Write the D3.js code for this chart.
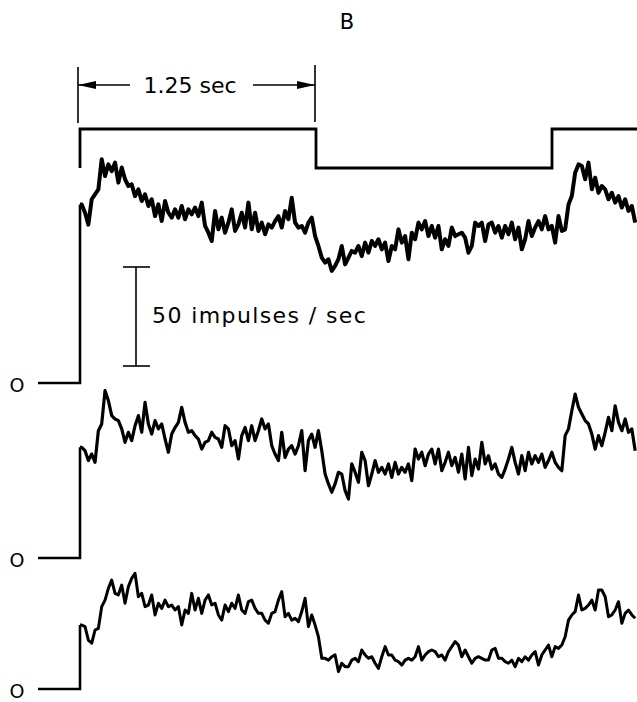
<!DOCTYPE html>
<html><head><meta charset="utf-8">
<script src="https://cdn.jsdelivr.net/npm/d3@7"></script>
<style>html,body{margin:0;padding:0;background:#fff;} svg{display:block;}</style>
</head><body>
<svg id="chart" width="637" height="702"></svg>
<script>
// ---- data ----
const panelLabel = "B";
const periodLabel = "1.25 sec";
const scaleLabel = "50 impulses / sec";
const zeroLabel = "O";
const halfPeriod = 1.25;          // s
const scaleBarValue = 50;         // impulses / sec
const stimTimes  = [0, 0, 1.25, 1.25, 2.5, 2.5, 2.96];
const stimLevels = [0, 1, 1,    0,    0,   1,   1];
const sampleStart = 0.009;        // s
const sampleStep = 0.01766;       // s

const trace1 = [90.2,86,80,92.8,95.3,97.8,113,104.5,110.4,107,111.3,101.2,108.8,102.9,99.5,100.3,94.4,97.8,91.9,95.3,89.4,92.8,84.3,90.2,81.8,91.9,86,83.5,87.7,83.5,89.4,82.7,87.7,85.2,88.6,84.3,91.1,79.3,75.9,71.7,86.9,77.6,83.5,75.9,81,87.7,76.8,80.1,86,78.5,91.1,77.6,86,76.8,81,75.1,80.1,78.5,81.8,84.3,78.5,86.9,82.7,93.6,81,78.5,79.3,75.9,81,83.5,74.2,69.2,63.3,60.8,62.5,56.6,59.1,62.5,69.2,59.9,63.3,66.7,
65.8,69.2,64.1,70.9,65.8,71.7,69.2,72.6,67.5,70.9,61.6,69.2,67.5,77.6,70.9,74.2,62.5,75.9,72.6,81,77.6,81.8,74.2,79.3,73.4,79.3,67.5,72.6,69.2,78.5,74.2,75.1,75.9,73.4,65.8,69.2,81,79.3,81,71.7,80.1,81,75.9,79.3,73.4,79.3,75.1,81,72.6,78.5,67.5,72.6,81.8,74.2,78.5,81.8,77.6,84.3,77.6,79.3,70.9,84.3,76.8,77.6,90.2,94.4,106.2,110.4,109.6,102.9,111.3,97.8,103.7,96.1,99.5,97.8,92.8,96.1,91.1,94.4,88.6,92.8,86.9,89.4,81];

const trace2 = [55.9,54.2,49.2,52.5,48.3,64.3,67.7,84.5,79.5,71.9,70.2,69.4,65.2,58.4,63.5,59.3,66.8,71.9,63.5,78.6,67.7,62.6,69.4,65.2,67.7,60.1,53.4,62.6,65.9,68.5,76.1,68.5,63.5,64.3,61.8,60.1,55,58.4,59.3,63.5,60.9,60.1,55.9,66.8,65.2,56.7,59.3,50,61.8,65.9,59.3,66.8,59.3,64.3,70.2,65.2,67.7,56.7,52.5,49.2,63.5,50.8,55,56.7,52.5,56.7,64.3,44.1,59.3,62.6,55.9,64.3,54.2,42.4,37.4,33.2,37.4,43.3,42.4,34,29.8,47.5,
43.3,38.2,53.4,49.2,36.5,42.4,49.2,43.3,45.8,42.4,47.5,40.7,48.3,42.4,45.8,43.3,47.5,39.1,55,50,53.4,46.6,52.5,55,47.5,55,44.1,48.3,53.4,46.6,50.8,43.3,52.5,39.9,55.9,41.6,50,44.9,58.4,47.5,51.7,44.9,47.5,42.4,40.7,44.9,50,55.9,48.3,42.4,51.7,44.1,53.4,47.5,51.7,48.3,52.5,45.8,49.2,53.4,48.3,45.8,44.1,61.8,65.2,74.4,82.8,76.1,72.7,69.4,67.7,62.6,55,61.8,56.7,63.5,71,64.3,76.9,68.5,64.3,70.2,63.5,65.2,54.2];

const trace3 = [32.3,31.5,24.7,23.1,29.8,30.6,41.6,44.9,50.8,55,48.3,47.5,52.5,43.3,51.7,55.9,58.4,46.6,48.3,41.6,42.4,47.5,37.4,43.3,40.7,44.9,41.6,42.4,39.9,41.6,32.3,39.9,38.2,48.3,39.9,45.8,38.2,44.9,47.5,42.4,43.3,37.4,34.8,42.4,39.1,43.3,40.7,47.5,39.9,38.2,44.1,44.9,40.7,38.2,38.2,34.8,33.2,38.2,39.1,44.9,49.2,36.5,38.2,34.8,35.7,34,39.1,45.8,31.5,37.4,32.3,26.4,15.5,15.5,14.6,16.3,17.2,8.8,13,11.3,11.3,14.6,
15.5,13.8,19.7,17.2,15.5,16.3,13,10.4,16.3,21.4,17.2,17.2,14.6,13.8,12.1,14.6,15.5,14.6,16.3,21.4,14.6,17.2,18.9,19.7,18.9,16.3,17.2,14.6,18.9,21.4,23.9,22.2,16.3,19.7,16.3,13,15.5,16.3,15.5,14.6,14.6,19.7,20.5,15.5,15.5,13.8,13,14.6,11.3,15.5,13.8,16.3,14.6,17.2,18.9,12.1,17.2,19.7,22.2,16.3,21.4,20.5,22.2,26.4,34.8,37.4,39.1,47.5,39.9,40.7,42.4,44.9,39.9,50,50,46.6,36.5,37.4,39.9,44.1,33.2,38.2,39.9,37.4,35.7];

// ---- layout ----
const svg = d3.select("#chart");
const font = "'DejaVu Sans', Verdana, sans-serif";
const x = d3.scaleLinear().domain([0, halfPeriod]).range([80, 316]);
const baselines = [383, 558, 689];
const pxPerUnit = 99 / 50;
const zeroLineStartX = 38;
const traceWidths = [4, 3.2, 3];

const traces = [trace1, trace2, trace3];

traces.forEach((vals, k) => {
  const b = baselines[k];
  const y = d3.scaleLinear().domain([0, scaleBarValue]).range([b, b - scaleBarValue * pxPerUnit]);
  const tStart = x.invert(zeroLineStartX);
  const pts = [[tStart, 0], [0, 0], [0, vals[0]]]
    .concat(vals.map((v, i) => [sampleStart + i * sampleStep, v]));
  const line = d3.line().x(d => x(d[0])).y(d => y(d[1]));
  // baseline and onset step drawn a bit thinner
  svg.append("path").attr("d", line(pts.slice(0, 3)))
    .attr("fill", "none").attr("stroke", "#000").attr("stroke-width", 2.6)
    .attr("stroke-linejoin", "miter");
  svg.append("path").attr("d", line(pts.slice(2)))
    .attr("fill", "none").attr("stroke", "#000")
    .attr("stroke-width", traceWidths[k])
    .attr("stroke-linejoin", "round").attr("stroke-linecap", "butt");
  svg.append("text").attr("x", 17).attr("y", b + 9)
    .attr("text-anchor", "middle").attr("font-family", font)
    .attr("font-size", 19).attr("fill", "#000").text(zeroLabel);
});

// stimulus trace
const yStim = d3.scaleLinear().domain([0, 1]).range([168, 129]);
const stimLine = d3.line().x(d => x(d[0])).y(d => yStim(d[1])).curve(d3.curveLinear);
svg.append("path")
  .attr("d", stimLine(stimTimes.map((t, i) => [t, stimLevels[i]])))
  .attr("fill", "none").attr("stroke", "#000").attr("stroke-width", 2.8)
  .attr("stroke-linejoin", "miter");

// timing bracket
const bx0 = x(0) - 2, bx1 = x(halfPeriod) - 1;
svg.append("line").attr("x1", bx0).attr("x2", bx0).attr("y1", 67).attr("y2", 123)
  .attr("stroke", "#000").attr("stroke-width", 1.6);
svg.append("line").attr("x1", bx1).attr("x2", bx1).attr("y1", 65).attr("y2", 122)
  .attr("stroke", "#000").attr("stroke-width", 1.6);
const arrowY = 85;
svg.append("line").attr("x1", bx0).attr("x2", 130).attr("y1", arrowY).attr("y2", arrowY)
  .attr("stroke", "#000").attr("stroke-width", 1.6);
svg.append("line").attr("x1", 253).attr("x2", bx1).attr("y1", arrowY).attr("y2", arrowY)
  .attr("stroke", "#000").attr("stroke-width", 1.6);
svg.append("path").attr("d", `M${bx0},${arrowY} L${bx0 + 18},${arrowY - 4} L${bx0 + 18},${arrowY + 4} Z`).attr("fill", "#000");
svg.append("path").attr("d", `M${bx1},${arrowY} L${bx1 - 18},${arrowY - 4} L${bx1 - 18},${arrowY + 4} Z`).attr("fill", "#000");
svg.append("text").attr("x", 190).attr("y", 93)
  .attr("text-anchor", "middle").attr("font-family", font).attr("font-size", 22)
  .attr("fill", "#000").text(periodLabel);

// scale bar
const barX = 136, barBottom = 366, barH = scaleBarValue * pxPerUnit;
svg.append("line").attr("x1", barX).attr("x2", barX).attr("y1", barBottom).attr("y2", barBottom - barH)
  .attr("stroke", "#000").attr("stroke-width", 1.6);
[barBottom, barBottom - barH].forEach(yy => {
  svg.append("line").attr("x1", barX - 13).attr("x2", barX + 14).attr("y1", yy).attr("y2", yy)
    .attr("stroke", "#000").attr("stroke-width", 1.6);
});
svg.append("text").attr("x", 152).attr("y", 323)
  .attr("font-family", font).attr("font-size", 22).attr("letter-spacing", 1.4)
  .attr("fill", "#000").text(scaleLabel);

// panel label
svg.append("text").attr("x", 347).attr("y", 29).attr("text-anchor", "middle")
  .attr("font-family", font).attr("font-size", 21).attr("fill", "#000").text(panelLabel);
</script>
</body></html>
